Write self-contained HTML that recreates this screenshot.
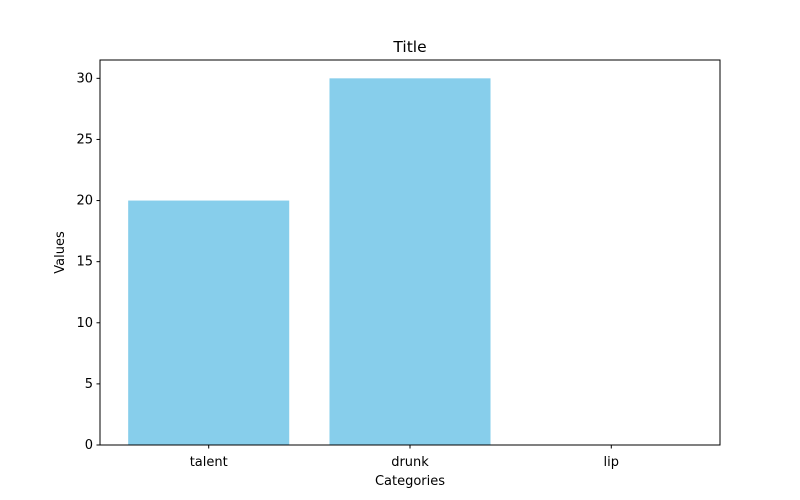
<!DOCTYPE html>
<html><head><meta charset="utf-8"><style>
body{margin:0;background:#fff}
svg{display:block;font-family:"DejaVu Sans","Liberation Sans",sans-serif}
</style></head><body>
<svg id="c" width="800" height="500"></svg>
<script>
const categories = ["talent","drunk","lip"];
const values = [20,30,0];
const yTicks = [0,5,10,15,20,25,30];

const NS="http://www.w3.org/2000/svg";
const svg=document.getElementById('c');
const L=100,R=720,T=60,B=445;
const ymax=Math.max(...values)*1.05||1;
const xmin=-0.54,xmax=categories.length-1+0.54;
function x(v){return L+(v-xmin)/(xmax-xmin)*(R-L);}
function y(v){return B-v/ymax*(B-T);}
function mk(tag,attrs,text){const e=document.createElementNS(NS,tag);for(const k in attrs)e.setAttribute(k,attrs[k]);if(text!==undefined)e.textContent=text;svg.appendChild(e);return e;}

values.forEach((v,i)=>{
  const w=x(0.4)-x(-0.4);
  const r=mk('rect',{x:x(i)-w/2,y:y(v),width:w,height:B-y(v),fill:'#87ceeb'});
  
  
});
const frame=mk('rect',{x:L,y:T,width:R-L,height:B-T,fill:'none',stroke:'#000','stroke-width':1});



yTicks.forEach(t=>{
  const ty=y(t);
  const l=mk('line',{x1:L-3.5,x2:L,y1:ty,y2:ty,stroke:'#000'});
  
  
  const tx=mk('text',{x:L-7,y:ty+4,'text-anchor':'end','font-size':13,fill:'#000'},t);
  
  
});
categories.forEach((c,i)=>{
  const tx0=x(i);
  const l=mk('line',{x1:tx0,x2:tx0,y1:B,y2:B+3.5,stroke:'#000'});
  
  
  const t=mk('text',{x:tx0,y:B+21,'text-anchor':'middle','font-size':13,fill:'#000'},c);
  
  
});
const title=mk('text',{x:(L+R)/2,y:52,'text-anchor':'middle','font-size':15.5,fill:'#000'},'Title');


const xl=mk('text',{x:(L+R)/2,y:485,'text-anchor':'middle','font-size':13,fill:'#000'},'Categories');


const yl=mk('text',{x:0,y:0,'text-anchor':'middle','font-size':13,fill:'#000',transform:'translate(64,'+((T+B)/2)+') rotate(-90)'},'Values');


</script>
</body></html>
